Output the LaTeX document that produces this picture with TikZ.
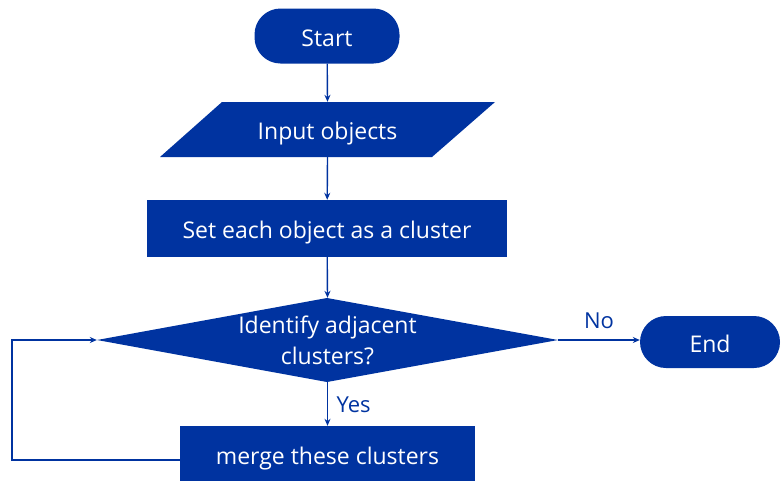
\documentclass[tikz,border=0pt]{standalone}
\usepackage{fontspec}
\setmainfont{Open Sans}
\usetikzlibrary{arrows.meta}
\definecolor{fcblue}{RGB}{0,51,160}
\tikzset{
  x=1pt, y=-1pt,
  lbl/.style={text=white, font=\fontsize{23}{31}\selectfont, align=center},
  oneline/.style={text height=24pt, text depth=4pt},
  term/.style={lbl, oneline, fill=fcblue, rounded corners=26pt, minimum width=145pt, minimum height=55pt, inner sep=0pt},
  boxnode/.style={lbl, oneline, fill=fcblue, minimum height=57pt, inner sep=0pt},
  ghost/.style={lbl, inner sep=0pt},
  conn/.style={draw=fcblue, line width=1.4pt, -{Stealth[length=7pt,width=6pt]}},
  side/.style={text=fcblue, font=\fontsize{22}{26}\selectfont},
}
\begin{document}
\begin{tikzpicture}
\useasboundingbox (0,0) rectangle (781,480);
% start
\node[term] (start) at (327,36) {Start};
% input parallelogram
\fill[fcblue] (222,102) -- (495,102) -- (432,157) -- (160,157) -- cycle;
\node[ghost, oneline, minimum width=272pt, minimum height=55pt] (inp) at (327.5,129.5) {Input objects};
% set box
\node[boxnode, minimum width=360pt] (set) at (327,228.5) {Set each object as a cluster};
% decision diamond
\fill[fcblue] (97,340) -- (327,298) -- (558,340) -- (327,382) -- cycle;
\node[ghost, minimum width=461pt, minimum height=84pt] (dec) at (327.5,340) {Identify adjacent\\clusters?};
% end
\node[term, minimum width=140pt, minimum height=52pt] (end) at (710,342) {End};
% merge
\node[boxnode, minimum width=295pt, minimum height=56pt] (merge) at (327.5,454) {merge these clusters};
\coordinate (lp1) at (12,460);
\coordinate (lp2) at (12,340);
% connectors
\draw[conn] (start) -- (inp.north);
\draw[conn] (inp.south) -- (set);
\draw[conn] (set) -- (dec.north);
\draw[conn] (dec.east) -- node[side, above, pos=0.5, yshift=7pt] {No} (end.west |- dec.east);
\draw[conn] (dec.south) -- node[side, right, pos=0.5, xshift=5pt, yshift=-1pt] {Yes} (merge);
\draw[conn] (merge.west |- lp1) -- (lp1) -- (lp2) -- (dec.west);
\end{tikzpicture}
\end{document}
